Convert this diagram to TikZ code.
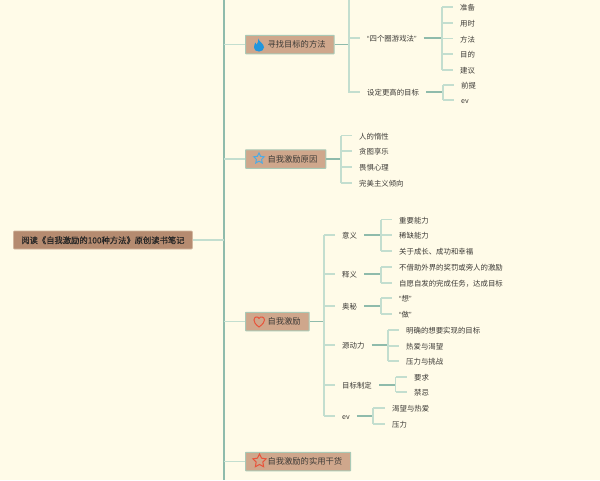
\documentclass[tikz,border=0pt]{standalone}
\usepackage{fontspec}
\setmainfont{Noto Sans CJK SC}
\newfontfamily\quotefont{Liberation Sans}
\newfontfamily\rootfont[FakeBold=0.35]{Noto Sans CJK SC}
\usepackage{xcolor}
\usetikzlibrary{shapes.geometric}

\definecolor{paper}{HTML}{FFFBE8}
\definecolor{rootfill}{HTML}{B58B70}
\definecolor{topicfill}{HTML}{CFA78C}
\definecolor{topicedge}{HTML}{A9C9B6}
\definecolor{stemline}{HTML}{8FBBAB}
\definecolor{twigline}{HTML}{C3DECF}
\definecolor{inktext}{HTML}{3C3A36}
\definecolor{iconblue}{HTML}{2196DD}
\definecolor{iconred}{HTML}{E8533A}

\newcommand{\openq}{{\quotefont “}}
\newcommand{\closeq}{{\quotefont ”}}

\tikzset{
  rootbox/.style={fill=rootfill, draw=rootfill!60!paper, line width=0.6pt, rounded corners=1pt,
    inner xsep=8pt, inner ysep=0pt, minimum height=18pt, anchor=west, text=black!85,
    text height=7.5pt, text depth=0.7pt, font=\rootfont\fontsize{8.3pt}{9pt}\selectfont},
  topicbox/.style={fill=topicfill, draw=topicedge, line width=1pt, rounded corners=0.5pt,
    inner xsep=8.5pt, inner ysep=0pt, minimum height=18.5pt, anchor=west, text=inktext,
    text height=7.5pt, text depth=0.7pt, font=\fontsize{8.3pt}{9pt}\selectfont},
  leaf/.style={inner xsep=7pt, inner ysep=0pt, anchor=west, text=inktext, text height=8pt, text depth=0.8pt,
    font=\fontsize{7.4pt}{8pt}\selectfont},
  stem/.style={draw=stemline, line width=1.2pt},
  twig/.style={draw=twigline, line width=1.2pt},
  icon/.style={star, star points=5, star point ratio=2, inner sep=0pt, line width=1pt, fill=none},
}

\begin{document}
\begin{tikzpicture}[x=1pt, y=-1pt]
  \fill[paper] (0, 0) rectangle (600, 480);
  \useasboundingbox (0, 0) rectangle (600, 480);

  % Root and main trunk
  \node[rootbox] (root) at (13, 240) {阅读《自我激励的100种方法》原创读书笔记};
  \coordinate (trunktop) at (224, 0);
  \coordinate (trunkend) at (224, 480);
  \draw[stem] (trunktop) -- (trunkend);
  \draw[twig] (root.east) -- (root.east -| trunktop);

  % Topics
  \node[topicbox] (goal) at (245, 44.5) {\hspace{13.5pt}寻找目标的方法};
  \node[topicbox] (cause) at (245, 159) {\hspace{13.5pt}自我激励原因};
  \node[topicbox] (self) at (245, 321.5) {\hspace{13.5pt}自我激励};
  \node[topicbox] (tips) at (245, 461.5) {\hspace{13.5pt}自我激励的实用干货};
  \foreach \topic in {goal, cause, self, tips} {
    \draw[twig] (\topic.west -| trunktop) -- (\topic.west);
  }

  % Topic icons
  \fill[iconblue] (258.5, 38.5) .. controls (258.5, 41.5) and (264, 43.5) .. (264, 47.5)
    .. controls (264, 50) and (261.5, 51.5) .. (259, 51.5)
    .. controls (256, 51.5) and (254, 50) .. (254, 47.5)
    .. controls (254, 45.5) and (254.6, 44) .. (255.4, 42.5)
    .. controls (255.6, 43.6) and (256, 44.4) .. (256.6, 44.8)
    .. controls (257.6, 43) and (258.6, 41) .. (258.5, 38.5) -- cycle;
  \node[icon, draw=iconblue!80!white, minimum size=11pt] (causeicon) at (259, 158.5) {};
  \draw[iconred, line width=1pt] (259, 327) .. controls (255, 324) and (254, 322) .. (254, 320)
    .. controls (254, 316.5) and (258, 316) .. (259, 318.5)
    .. controls (260, 316) and (264.5, 316.5) .. (264.5, 320)
    .. controls (264.5, 322) and (263, 324) .. (259, 327) -- cycle;
  \node[icon, draw=iconred, minimum size=14pt] (tipsicon) at (259.5, 461) {};

  % Goal topic
  \coordinate (goaljoint) at (349, 44.5);
  \draw[stem] (goal.east) -- (goaljoint);
  \node[leaf] (circles) at (360, 38) {\openq 四个圈游戏法\closeq};
  \node[leaf] (higher) at (360, 92) {设定更高的目标};
  \draw[twig] (goaljoint |- 0, 0) -- (goaljoint |- higher.west) -- (higher.west);
  \draw[twig] (goaljoint |- circles.west) -- (circles.west);

  \coordinate (circlesjoint) at (442, 38);
  \draw[stem] (circles.east) -- (circlesjoint);
  \foreach \name/\ypos/\label in {prep/7/准备, hours/23/用时, way/38.5/方法, aim/54/目的, advice/70/建议} {
    \node[leaf] (\name) at (453, \ypos) {\label};
    \draw[twig] (circlesjoint |- \name.west) -- (\name.west);
  }
  \draw[twig] (circlesjoint |- prep.west) -- (circlesjoint |- advice.west);

  \coordinate (higherjoint) at (443, 92);
  \draw[stem] (higher.east) -- (higherjoint);
  \foreach \name/\ypos/\label in {premise/85/前提, evone/100/\scriptsize ev} {
    \node[leaf] (\name) at (454, \ypos) {\label};
    \draw[twig] (higherjoint |- \name.west) -- (\name.west);
  }
  \draw[twig] (higherjoint |- premise.west) -- (higherjoint |- evone.west);

  % Cause topic
  \coordinate (causejoint) at (341, 159);
  \draw[stem] (cause.east) -- (causejoint);
  \foreach \name/\ypos/\label in {lazy/135.5/人的惰性, joy/151/贪图享乐, fear/167/畏惧心理, perfect/183/完美主义倾向} {
    \node[leaf] (\name) at (352, \ypos) {\label};
    \draw[twig] (causejoint |- \name.west) -- (\name.west);
  }
  \draw[twig] (causejoint |- lazy.west) -- (causejoint |- perfect.west);

  % Self topic
  \coordinate (selfjoint) at (324, 321.5);
  \draw[stem] (self.east) -- (selfjoint);
  \foreach \name/\ypos/\label in {meaning/235/意义, define/274/释义, secret/306/奥秘, drive/345/源动力, setgoal/385/目标制定, evtwo/416/\scriptsize ev} {
    \node[leaf] (\name) at (335, \ypos) {\label};
    \draw[twig] (selfjoint |- \name.west) -- (\name.west);
  }
  \draw[twig] (selfjoint |- meaning.west) -- (selfjoint |- evtwo.west);

  \coordinate (meaningjoint) at (381, 235);
  \draw[stem] (meaning.east) -- (meaningjoint);
  \foreach \name/\ypos/\label in {vital/219.5/重要能力, scarce/235/稀缺能力, growth/251/关于成长、成功和幸福} {
    \node[leaf] (\name) at (392, \ypos) {\label};
    \draw[twig] (meaningjoint |- \name.west) -- (\name.west);
  }
  \draw[twig] (meaningjoint |- vital.west) -- (meaningjoint |- growth.west);

  \coordinate (definejoint) at (381, 274);
  \draw[stem] (define.east) -- (definejoint);
  \foreach \name/\ypos/\label in {outer/267/不借助外界的奖罚或旁人的激励, inner/283/自愿自发的完成任务，达成目标} {
    \node[leaf] (\name) at (392, \ypos) {\label};
    \draw[twig] (definejoint |- \name.west) -- (\name.west);
  }
  \draw[twig] (definejoint |- outer.west) -- (definejoint |- inner.west);

  \coordinate (secretjoint) at (381, 306);
  \draw[stem] (secret.east) -- (secretjoint);
  \foreach \name/\ypos/\label in {think/298/\openq 想\closeq, act/314/\openq 做\closeq} {
    \node[leaf] (\name) at (392, \ypos) {\label};
    \draw[twig] (secretjoint |- \name.west) -- (\name.west);
  }
  \draw[twig] (secretjoint |- think.west) -- (secretjoint |- act.west);

  \coordinate (drivejoint) at (388, 345);
  \draw[stem] (drive.east) -- (drivejoint);
  \foreach \name/\ypos/\label in {clear/330/明确的想要实现的目标, passion/346/热爱与渴望, stress/361/压力与挑战} {
    \node[leaf] (\name) at (399, \ypos) {\label};
    \draw[twig] (drivejoint |- \name.west) -- (\name.west);
  }
  \draw[twig] (drivejoint |- clear.west) -- (drivejoint |- stress.west);

  \coordinate (setgoaljoint) at (395.5, 385);
  \draw[stem] (setgoal.east) -- (setgoaljoint);
  \foreach \name/\ypos/\label in {must/377/要求, taboo/392/禁忌} {
    \node[leaf] (\name) at (407, \ypos) {\label};
    \draw[twig] (setgoaljoint |- \name.west) -- (\name.west);
  }
  \draw[twig] (setgoaljoint |- must.west) -- (setgoaljoint |- taboo.west);

  \coordinate (evjoint) at (373, 416);
  \draw[stem] (evtwo.east) -- (evjoint);
  \foreach \name/\ypos/\label in {desire/408/渴望与热爱, press/424/压力} {
    \node[leaf] (\name) at (385, \ypos) {\label};
    \draw[twig] (evjoint |- \name.west) -- (\name.west);
  }
  \draw[twig] (evjoint |- desire.west) -- (evjoint |- press.west);
\end{tikzpicture}
\end{document}
